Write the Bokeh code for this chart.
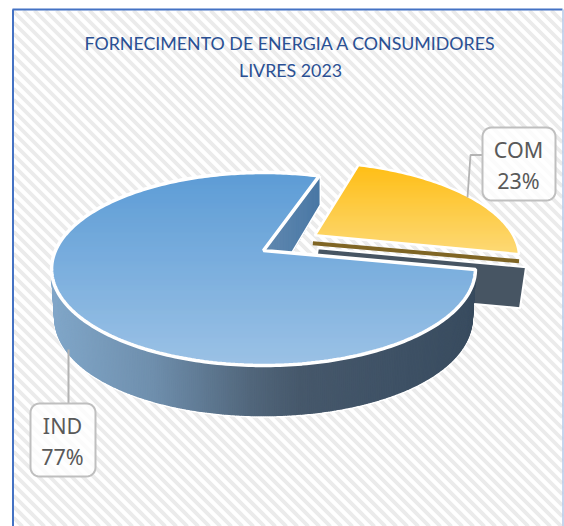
import numpy as np
from bokeh.plotting import figure
from bokeh.models import Range1d
from bokeh.core.properties import value
from bokeh.embed import file_html
from bokeh.resources import INLINE

# ---- chart data ----
title_lines = ["FORNECIMENTO DE ENERGIA A CONSUMIDORES", "LIVRES 2023"]
categories = ["IND", "COM"]
shares = [77, 23]

# ---- view of the 3D pie (circle of radius 1 seen in perspective) ----
START_ANGLE = 18.5       # clockwise from the far side, where COM begins
EXPLODE = 0.27
CX, CY = 263.0, 250.0
PERSP, SCALE_Y, SCALE_X = 0.1917, 92.95, 208.0


def project(u, v):
    w = 1 + PERSP * v
    return CX + SCALE_X * u / w, CY - SCALE_Y * v / w


def depth(v):
    return 46 - 11.1 * v - 7.1 * v * v


def arc(a0, a1, ox=0.0, oy=0.0):
    n = max(2, int(abs(a1 - a0)) + 1)
    t = np.radians(np.linspace(a0, a1, n))
    return np.sin(t) + ox, np.cos(t) + oy


def hex2rgb(h):
    return np.array([int(h[i:i + 2], 16) for i in (1, 3, 5)], float)


def ramp(pos, stops):
    xs = [s[0] for s in stops]
    out = [np.interp(pos, xs, [hex2rgb(s[1])[k] for s in stops]) for k in range(3)]
    return "#%02x%02x%02x" % tuple(int(round(c)) for c in out)


def scan_fill(plot, xs, ys, stops):
    """Vertical gradient fill: an opaque base, then one span per pixel row."""
    plot.patch(xs, ys, fill_color=ramp((min(ys) + max(ys)) / 2, stops), line_color=None)
    x0, x1, yy, cc = [], [], [], []
    n = len(xs)
    for row in np.arange(np.floor(min(ys)), np.ceil(max(ys)) + 1):
        y = row + 0.5
        hits = []
        for i in range(n):
            xa, ya, xb, yb = xs[i], ys[i], xs[(i + 1) % n], ys[(i + 1) % n]
            if (ya <= y) != (yb <= y):
                hits.append(xa + (y - ya) * (xb - xa) / (yb - ya))
        hits.sort()
        for a, b in zip(hits[0::2], hits[1::2]):
            x0.append(a); x1.append(b); yy.append(y); cc.append(ramp(y, stops))
    plot.segment(x0, yy, x1, yy, line_color=cc, line_width=1.5, line_alpha=1.0)


def round_box(x0, y0, x1, y1, r=9):
    xs, ys = [], []
    for cx_, cy_, a in [(x1 - r, y0 + r, -90), (x1 - r, y1 - r, 0), (x0 + r, y1 - r, 90), (x0 + r, y0 + r, 180)]:
        t = np.radians(np.linspace(a, a + 90, 8))
        xs += list(cx_ + r * np.cos(t)); ys += list(cy_ + r * np.sin(t))
    return xs, ys


p = figure(width=564, height=526, output_backend="svg", toolbar_location=None,
           x_range=Range1d(0, 564), y_range=Range1d(526, 0), min_border=0)
p.axis.visible = False
p.grid.visible = False
p.outline_line_color = None
p.background_fill_color = "white"
p.border_fill_color = "white"

# chart area: diagonal stripes clipped to the frame
L, R, T, B = 13.0, 562.0, 10.0, 526.0
PERIOD = 11.0
sxs, sys_ = [], []
for c in np.arange(T - R, B - L, PERIOD):       # stripe: y = x + c
    x_a = max(L, T - c); x_b = min(R, B - c)
    if x_b > x_a:
        sxs.append([x_a, x_b]); sys_.append([x_a + c, x_b + c])
p.multi_line(sxs, sys_, line_color="#ebebeb", line_width=3.8)
p.line([12.5, 12.5], [526, 9], line_color="#4472c4", line_width=2)
p.line([12, 562], [9, 9], line_color="#4472c4", line_width=2)
p.line([562.5, 562.5], [9, 526], line_color="#b4c7e7", line_width=1.5)

total = sum(shares)
com_span = shares[1] / total * 360
com_a0, com_a1 = START_ANGLE, START_ANGLE + com_span
ind_a0, ind_a1 = com_a1, START_ANGLE + 360

# ---- COM slice, pushed out along its middle direction ----
mid = np.radians((com_a0 + com_a1) / 2)
ox, oy = EXPLODE * np.sin(mid), EXPLODE * np.cos(mid)
cu, cv = arc(com_a0, com_a1, ox, oy)
cx_, cy_ = project(cu, cv)
ax, ay = project(ox, oy)
cx_ = np.array(cx_); cy_ = np.array(cy_) - 2
ax += 4
ay -= 3
tipx, tipy = cx_[-1], cy_[-1]

wall_x = [ax + 3, tipx + 7, tipx + 1, ax - 3]
wall_y = [ay + 13, tipy + 13, tipy + 54, ay + 54]
p.patch(wall_x, wall_y, fill_color="#475563", line_color="white", line_width=2)
p.line([ax - 2, tipx], [ay + 8, tipy + 7], line_color="#7f6524", line_width=4)
com_x = [ax] + list(cx_)
com_y = [ay] + list(cy_)
scan_fill(p, com_x, com_y, [(min(com_y), "#ffbd12"), (max(com_y) - 6, "#fcd873")])
p.patch(com_x, com_y, fill_alpha=0, line_color="white", line_width=2.5)

# ---- IND slice ----
iu, iv = arc(ind_a0, ind_a1)
ix, iy = project(iu, iv)

# wall inside the notch
eu, ev = np.sin(np.radians(ind_a1)), np.cos(np.radians(ind_a1))
fx, fy = project(eu, ev)
tt = np.linspace(0, 1, 40)
nx, ny, nc = [], [], []
for a, b in zip(tt[:-1], tt[1:]):
    xa, ya = project(eu * a, ev * a)
    xb, yb = project(eu * b, ev * b)
    nx.append([xa, xb, xb, xa])
    ny.append([ya, yb, yb + depth(ev * b), ya + depth(ev * a)])
    nc.append(ramp(xb, [(268, "#5f87af"), (320, "#4a78a5")]))
p.patches(nx, ny, fill_color=nc, line_color=nc, line_width=1.2)
cxa, cya = project(0, 0)
p.line([fx + 1, fx + 1, cxa + 2], [fy, fy + depth(ev), cya + depth(0)], line_color="white", line_width=1.5)

# outer wall
ang = np.arange(ind_a0, 300, 0.5)
su = np.sin(np.radians(ang)); sv = np.cos(np.radians(ang))
sx, sy = project(su, sv)
bx = CX + (sx - CX) * 0.985
by = sy + depth(sv)
stops = [(52, "#80a6c8"), (150, "#6f8fad"), (250, "#51667b"), (300, "#46586b"), (400, "#3e5165"), (475, "#394c5f")]
p.line(list(bx), list(by + 1), line_color="white", line_width=2.5)
qx = [[sx[i], sx[i + 1], bx[i + 1], bx[i]] for i in range(len(ang) - 1)]
qy = [[sy[i], sy[i + 1], by[i + 1], by[i]] for i in range(len(ang) - 1)]
qc = [ramp((sx[i] + sx[i + 1]) / 2, stops) for i in range(len(ang) - 1)]
p.patches(qx, qy, fill_color=qc, line_color=qc, line_width=1.6)

# top face
top_x = [cxa] + list(ix)
top_y = [cya] + list(iy)
scan_fill(p, top_x, top_y, [(172, "#5b9bd5"), (365, "#9dc3e6")])
p.patch(top_x, top_y, fill_alpha=0, line_color="white", line_width=3.5)

# ---- data label callouts ----
p.line([68, 68], [349, 403], line_color="#b3b3b3", line_width=2)
p.line([467, 470, 482], [197, 154.5, 154.5], line_color="#b3b3b3", line_width=1.8)
for (x0, y0, x1, y1) in [(30, 403, 95, 476), (482, 127, 555, 200)]:
    bxs, bys = round_box(x0, y0, x1, y1)
    p.patch(bxs, bys, fill_color="white", fill_alpha=0.8, line_color="#bfbfbf", line_width=2)

lab_x = [62, 62, 518, 518]
lab_y = [425, 456, 149, 180]
lab_t = [categories[0], f"{shares[0]}%", categories[1], f"{shares[1]}%"]
p.text(lab_x, lab_y, text=lab_t, text_font=value("Noto Sans"), text_font_size="21.5px",
       text_color="#595959", text_align="center", text_baseline="middle")

# ---- title ----
p.text([290, 290], [42, 69], text=title_lines, text_font=value("Lato"), text_font_size="17.8px",
       text_color="#2a5094", text_align="center", text_baseline="middle")

open("out.html", "w").write(file_html(p, INLINE))
